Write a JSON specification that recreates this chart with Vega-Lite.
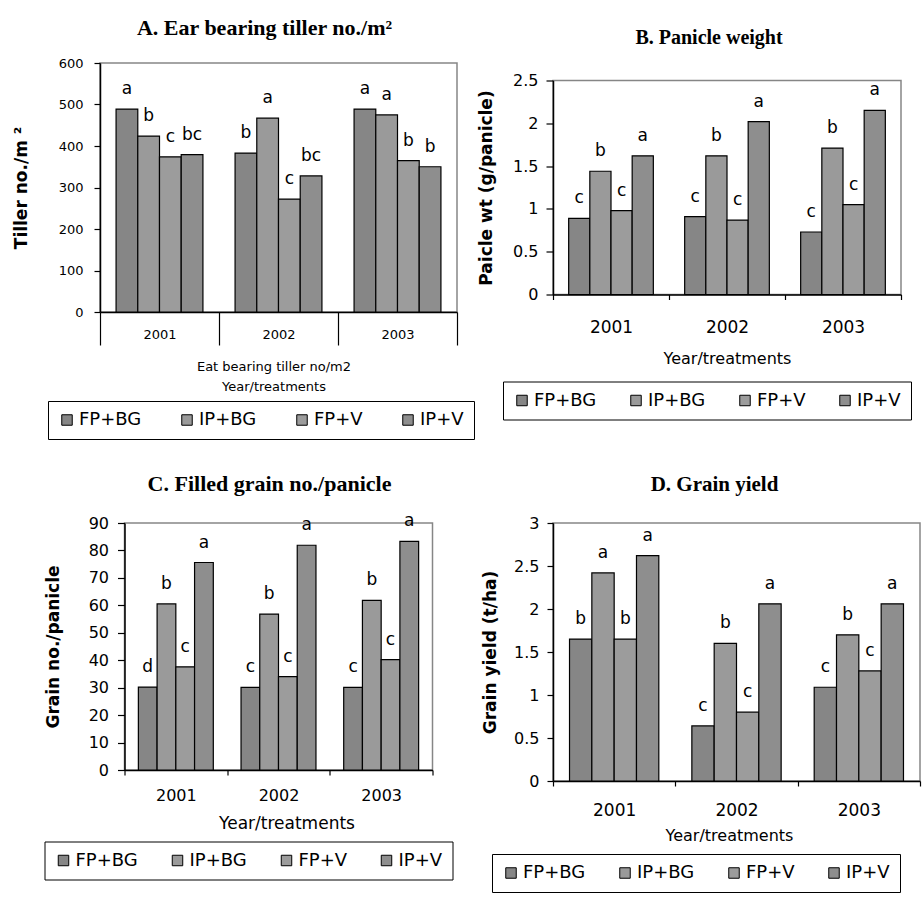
{
  "$schema": "https://vega.github.io/schema/vega-lite/v6.json",
  "padding": {"left": 11, "top": 16, "right": 0, "bottom": 0},
  "autosize": {"type": "pad"},
  "background": "white",
  "datasets": {
    "A": [
      {"year": "2001", "trt": "FP+BG", "value": 489, "sig": "a"},
      {"year": "2001", "trt": "IP+BG", "value": 424, "sig": "b"},
      {"year": "2001", "trt": "FP+V", "value": 374, "sig": "c"},
      {"year": "2001", "trt": "IP+V", "value": 379, "sig": "bc"},
      {"year": "2002", "trt": "FP+BG", "value": 383, "sig": "b"},
      {"year": "2002", "trt": "IP+BG", "value": 467, "sig": "a"},
      {"year": "2002", "trt": "FP+V", "value": 272, "sig": "c"},
      {"year": "2002", "trt": "IP+V", "value": 328, "sig": "bc"},
      {"year": "2003", "trt": "FP+BG", "value": 489, "sig": "a"},
      {"year": "2003", "trt": "IP+BG", "value": 475, "sig": "a"},
      {"year": "2003", "trt": "FP+V", "value": 365, "sig": "b"},
      {"year": "2003", "trt": "IP+V", "value": 350, "sig": "b"}
    ],
    "B": [
      {"year": "2001", "trt": "FP+BG", "value": 0.89, "sig": "c"},
      {"year": "2001", "trt": "IP+BG", "value": 1.44, "sig": "b"},
      {"year": "2001", "trt": "FP+V", "value": 0.98, "sig": "c"},
      {"year": "2001", "trt": "IP+V", "value": 1.62, "sig": "a"},
      {"year": "2002", "trt": "FP+BG", "value": 0.91, "sig": "c"},
      {"year": "2002", "trt": "IP+BG", "value": 1.62, "sig": "b"},
      {"year": "2002", "trt": "FP+V", "value": 0.87, "sig": "c"},
      {"year": "2002", "trt": "IP+V", "value": 2.02, "sig": "a"},
      {"year": "2003", "trt": "FP+BG", "value": 0.73, "sig": "c"},
      {"year": "2003", "trt": "IP+BG", "value": 1.71, "sig": "b"},
      {"year": "2003", "trt": "FP+V", "value": 1.05, "sig": "c"},
      {"year": "2003", "trt": "IP+V", "value": 2.15, "sig": "a"}
    ],
    "C": [
      {"year": "2001", "trt": "FP+BG", "value": 30.2, "sig": "d"},
      {"year": "2001", "trt": "IP+BG", "value": 60.5, "sig": "b"},
      {"year": "2001", "trt": "FP+V", "value": 37.6, "sig": "c"},
      {"year": "2001", "trt": "IP+V", "value": 75.6, "sig": "a"},
      {"year": "2002", "trt": "FP+BG", "value": 30.1, "sig": "c"},
      {"year": "2002", "trt": "IP+BG", "value": 56.8, "sig": "b"},
      {"year": "2002", "trt": "FP+V", "value": 34.0, "sig": "c"},
      {"year": "2002", "trt": "IP+V", "value": 81.9, "sig": "a"},
      {"year": "2003", "trt": "FP+BG", "value": 30.1, "sig": "c"},
      {"year": "2003", "trt": "IP+BG", "value": 61.8, "sig": "b"},
      {"year": "2003", "trt": "FP+V", "value": 40.2, "sig": "c"},
      {"year": "2003", "trt": "IP+V", "value": 83.3, "sig": "a"}
    ],
    "D": [
      {"year": "2001", "trt": "FP+BG", "value": 1.65, "sig": "b"},
      {"year": "2001", "trt": "IP+BG", "value": 2.42, "sig": "a"},
      {"year": "2001", "trt": "FP+V", "value": 1.65, "sig": "b"},
      {"year": "2001", "trt": "IP+V", "value": 2.62, "sig": "a"},
      {"year": "2002", "trt": "FP+BG", "value": 0.64, "sig": "c"},
      {"year": "2002", "trt": "IP+BG", "value": 1.6, "sig": "b"},
      {"year": "2002", "trt": "FP+V", "value": 0.8, "sig": "c"},
      {"year": "2002", "trt": "IP+V", "value": 2.06, "sig": "a"},
      {"year": "2003", "trt": "FP+BG", "value": 1.09, "sig": "c"},
      {"year": "2003", "trt": "IP+BG", "value": 1.7, "sig": "b"},
      {"year": "2003", "trt": "FP+V", "value": 1.28, "sig": "c"},
      {"year": "2003", "trt": "IP+V", "value": 2.06, "sig": "a"}
    ]
  },
  "columns": 2,
  "spacing": {"row": 211, "column": 96},
  "bounds": "flush",
  "align": "each",
  "center": true,
  "resolve": {
    "scale": {"x": "independent", "y": "independent", "xOffset": "independent", "fill": "independent"},
    "legend": {"fill": "independent"}
  },
  "concat": [
    {
      "width": 357, "height": 249,
      "data": {"name": "A"},
      "title": {"text": "A. Ear bearing tiller no./m²", "fontSize": 22, "dx": -14, "offset": 17},
      "encoding": {
        "x": {"field": "year", "type": "nominal", "scale": {"paddingInner": 0, "paddingOuter": 0},
          "axis": {"tickBand": "extent", "tickSize": 33, "labelPadding": -17, "labelFontSize": 13,
            "title": ["Eat bearing tiller no/m2", "Year/treatments"], "titleFontSize": 13, "titleBaseline": "top",
            "titleY": 48, "titleX": 173.5, "titleLineHeight": 20}},
        "xOffset": {"field": "trt", "type": "nominal", "sort": ["FP+BG", "IP+BG", "FP+V", "IP+V"], "scale": {"paddingInner": 0, "paddingOuter": 0.74}},
        "y": {"field": "value", "type": "quantitative", "scale": {"domain": [0, 600], "nice": false},
          "axis": {"values": [0, 100, 200, 300, 400, 500, 600], "title": "Tiller no./m ²", "titleX": -79, "labelFontSize": 13, "tickSize": 6, "labelPadding": 11}}
      },
      "layer": [
        {"mark": {"type": "bar", "stroke": "black", "strokeWidth": 1.2},
          "encoding": {"fill": {"field": "trt", "type": "nominal",
            "scale": {"domain": ["FP+BG", "IP+BG", "FP+V", "IP+V"], "range": ["#868686", "#9a9a9a", "#9c9c9c", "#8e8e8e"]},
            "legend": {"title": null, "legendX": -52, "legendY": 338, "columnPadding": 36}}}},
        {"mark": {"type": "text", "dy": -15, "baseline": "alphabetic", "fontSize": 17, "font": "DejaVu Sans", "color": "black"},
          "encoding": {"text": {"field": "sig"}}}
      ]
    },
    {
      "width": 348, "height": 214,
      "data": {"name": "B"},
      "title": {"text": "B. Panicle weight", "fontSize": 20, "dx": -18, "offset": 25},
      "encoding": {
        "x": {"field": "year", "type": "nominal", "scale": {"paddingInner": 0, "paddingOuter": 0},
          "axis": {"tickBand": "extent", "tickSize": 5, "labelPadding": 20, "labelFontSize": 17,
            "title": "Year/treatments", "titleFontSize": 16, "titleBaseline": "middle", "titleY": 64}},
        "xOffset": {"field": "trt", "type": "nominal", "sort": ["FP+BG", "IP+BG", "FP+V", "IP+V"], "scale": {"paddingInner": 0, "paddingOuter": 0.74}},
        "y": {"field": "value", "type": "quantitative", "scale": {"domain": [0, 2.5], "nice": false},
          "axis": {"values": [0, 0.5, 1, 1.5, 2, 2.5], "format": "~g", "title": "Paicle wt (g/panicle)", "titleX": -67, "labelFontSize": 16, "tickSize": 7, "labelPadding": 8}}
      },
      "layer": [
        {"mark": {"type": "bar", "stroke": "black", "strokeWidth": 1.2},
          "encoding": {"fill": {"field": "trt", "type": "nominal",
            "scale": {"domain": ["FP+BG", "IP+BG", "FP+V", "IP+V"], "range": ["#868686", "#9a9a9a", "#9c9c9c", "#8e8e8e"]},
            "legend": {"title": null, "legendX": -50, "legendY": 301}}}},
        {"mark": {"type": "text", "dy": -15, "baseline": "alphabetic", "fontSize": 17, "font": "DejaVu Sans", "color": "black"},
          "encoding": {"text": {"field": "sig"}}}
      ]
    },
    {
      "width": 308, "height": 247,
      "data": {"name": "C"},
      "title": {"text": "C. Filled grain no./panicle", "fontSize": 22, "dx": -9, "offset": 16.5},
      "encoding": {
        "x": {"field": "year", "type": "nominal", "scale": {"paddingInner": 0, "paddingOuter": 0},
          "axis": {"tickBand": "extent", "tickSize": 5, "labelPadding": 12, "labelFontSize": 16,
            "title": "Year/treatments", "titleFontSize": 17, "titleBaseline": "middle", "titleY": 53, "titleX": 162}},
        "xOffset": {"field": "trt", "type": "nominal", "sort": ["FP+BG", "IP+BG", "FP+V", "IP+V"], "scale": {"paddingInner": 0, "paddingOuter": 0.74}},
        "y": {"field": "value", "type": "quantitative", "scale": {"domain": [0, 90], "nice": false},
          "axis": {"values": [0, 10, 20, 30, 40, 50, 60, 70, 80, 90], "title": "Grain no./panicle", "titleX": -71.5, "labelFontSize": 16, "tickSize": 7, "labelPadding": 9}}
      },
      "layer": [
        {"mark": {"type": "bar", "stroke": "black", "strokeWidth": 1.2},
          "encoding": {"fill": {"field": "trt", "type": "nominal",
            "scale": {"domain": ["FP+BG", "IP+BG", "FP+V", "IP+V"], "range": ["#868686", "#9a9a9a", "#9c9c9c", "#8e8e8e"]},
            "legend": {"title": null, "legendX": -80, "legendY": 318.5}}}},
        {"mark": {"type": "text", "dy": -15, "baseline": "alphabetic", "fontSize": 17, "font": "DejaVu Sans", "color": "black"},
          "encoding": {"text": {"field": "sig"}}}
      ]
    },
    {
      "width": 367, "height": 258,
      "data": {"name": "D"},
      "title": {"text": "D. Grain yield", "fontSize": 21, "dx": -22, "offset": 20.5},
      "encoding": {
        "x": {"field": "year", "type": "nominal", "scale": {"paddingInner": 0, "paddingOuter": 0},
          "axis": {"tickBand": "extent", "tickSize": 5, "labelPadding": 16.5, "labelFontSize": 17,
            "title": "Year/treatments", "titleFontSize": 16, "titleBaseline": "middle", "titleY": 54, "titleX": 176}},
        "xOffset": {"field": "trt", "type": "nominal", "sort": ["FP+BG", "IP+BG", "FP+V", "IP+V"], "scale": {"paddingInner": 0, "paddingOuter": 0.74}},
        "y": {"field": "value", "type": "quantitative", "scale": {"domain": [0, 3], "nice": false},
          "axis": {"values": [0, 0.5, 1, 1.5, 2, 2.5, 3], "format": "~g", "title": "Grain yield (t/ha)", "titleX": -62.5, "labelFontSize": 16, "tickSize": 6, "labelPadding": 8}}
      },
      "layer": [
        {"mark": {"type": "bar", "stroke": "black", "strokeWidth": 1.2},
          "encoding": {"fill": {"field": "trt", "type": "nominal",
            "scale": {"domain": ["FP+BG", "IP+BG", "FP+V", "IP+V"], "range": ["#868686", "#9a9a9a", "#9c9c9c", "#8e8e8e"]},
            "legend": {"title": null, "legendX": -61, "legendY": 331}}}},
        {"mark": {"type": "text", "dy": -15, "baseline": "alphabetic", "fontSize": 17, "font": "DejaVu Sans", "color": "black"},
          "encoding": {"text": {"field": "sig"}}}
      ]
    }
  ],
  "config": {
    "font": "DejaVu Sans",
    "view": {"stroke": "#868686", "strokeWidth": 1.5},
    "axis": {"domainColor": "black", "domainWidth": 1.5, "tickColor": "black", "tickWidth": 1.2, "labelColor": "black", "titleColor": "black", "labelFont": "DejaVu Sans", "titleFont": "DejaVu Sans", "grid": false},
    "axisX": {"labelAngle": 0, "titleFontWeight": "normal"},
    "axisY": {"titleFontWeight": "bold", "titleFontSize": 17, "titleBaseline": "middle"},
    "title": {"font": "Liberation Serif", "fontWeight": "bold", "color": "black", "frame": "group", "baseline": "alphabetic", "anchor": "middle"},
    "legend": {"orient": "none", "direction": "horizontal", "columns": 4, "strokeColor": "black", "padding": 10, "symbolType": "square", "symbolSize": 110, "symbolStrokeColor": "black", "symbolStrokeWidth": 1, "symbolOpacity": 1, "labelFont": "DejaVu Sans", "labelFontSize": 18, "labelColor": "black", "labelOffset": 3, "columnPadding": 30}
  }
}
